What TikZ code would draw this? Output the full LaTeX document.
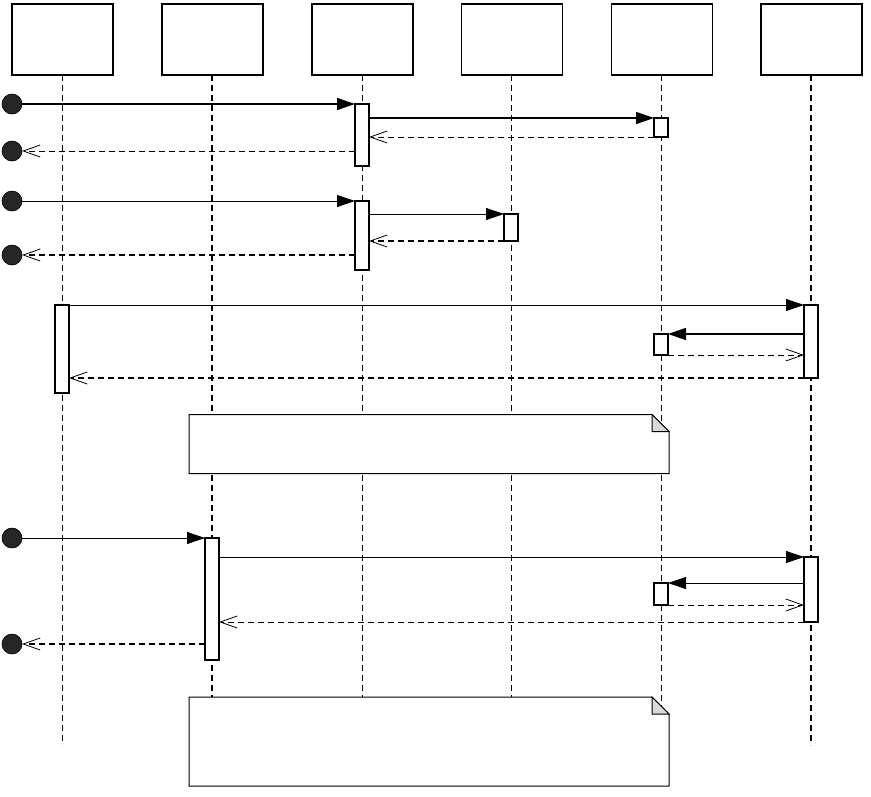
\documentclass[tikz,border=0pt]{standalone}
\usetikzlibrary{arrows.meta,calc}
\begin{document}
\begin{tikzpicture}[x=1pt,y=-1pt,
  header/.style={draw,line width=1.3pt,fill=white,minimum width=101pt,minimum height=71pt,inner sep=0pt,outer sep=0pt,anchor=north},
  life/.style={line width=0.8pt,dash pattern=on 6pt off 4pt},
  lifethick/.style={line width=1.3pt,dash pattern=on 6pt off 4pt},
  bar/.style={draw,line width=1.2pt,fill=white,minimum width=14pt,inner sep=0pt,outer sep=0pt,anchor=north},
  endpt/.style={circle,draw=black,line width=0.6pt,fill=black!85,minimum size=20pt,inner sep=0pt,outer sep=0pt},
  sync/.style={-{Triangle[length=18pt,width=12pt]},line width=0.8pt},
  syncthick/.style={-{Triangle[length=18pt,width=12pt]},line width=1.5pt},
  reply/.style={-{Straight Barb[length=17pt,width=12pt,line width=0.8pt]},line width=0.8pt,dash pattern=on 6pt off 4pt},
  replythick/.style={-{Straight Barb[length=17pt,width=12pt,line width=0.8pt]},line width=1.3pt,dash pattern=on 6pt off 4pt},
  notebox/.style={minimum width=480pt,inner sep=0pt,outer sep=0pt,anchor=north west},
  noteline/.style={draw,line width=1pt,fill=white},
  fold/.style={draw,line width=1pt,fill=black!15}
]
\useasboundingbox (0,0) rectangle (871,796);

% headers
\node[header] (h1) at (62.5,4) {};
\node[header] (h2) at (212.5,4) {};
\node[header] (h3) at (362.5,4) {};
\node[header] (h4) at (512,4) {};
\node[header] (h5) at (662,4) {};
\node[header] (h6) at (811.5,4) {};

% lifeline ends
\coordinate (e1) at (62,745);
\coordinate (e2) at (212,745);
\coordinate (e3) at (362,745);
\coordinate (e4) at (511,745);
\coordinate (e5) at (661,745);
\coordinate (e6) at (811,745);

\draw[life] (h1.south -| e1) -- (e1);
\draw[lifethick] (h2.south -| e2) -- (e2);
\draw[life] (h3.south -| e3) -- (e3);
\draw[life] (h4.south -| e4) -- (e4);
\draw[life] (h5.south -| e5) -- (e5);
\draw[lifethick] (h6.south -| e6) -- (e6);

% activation bars
\node[bar,minimum height=62pt] (b3a) at (362,104) {};
\node[bar,minimum height=19pt] (b5a) at (661,118) {};
\node[bar,minimum height=69pt] (b3b) at (362,201) {};
\node[bar,minimum height=27pt] (b4a) at (511,214) {};
\node[bar,minimum height=88pt] (b1a) at (62,305) {};
\node[bar,minimum height=73pt] (b6a) at (811,305) {};
\node[bar,minimum height=21pt] (b5b) at (661,334) {};
\node[bar,minimum height=122pt] (b2a) at (212,538) {};
\node[bar,minimum height=65pt] (b6b) at (811,557) {};
\node[bar,minimum height=22pt] (b5c) at (661,583) {};

% end points
\node[endpt] (c1) at (12,104) {};
\node[endpt] (c2) at (12,151) {};
\node[endpt] (c3) at (12,201) {};
\node[endpt] (c4) at (12,255) {};
\node[endpt] (c5) at (12,538) {};
\node[endpt] (c6) at (12,644) {};

% group 1
\draw[syncthick] (c1.east) -- (c1 -| b3a.west);
\draw[syncthick] (b5a.north west -| b3a.east) -- (b5a.north west);
\draw[reply] (b5a.south west) -- (b5a.south west -| b3a.east);
\draw[reply] (c2 -| b3a.west) -- (c2.east);

% group 2
\draw[sync] (c3.east) -- (c3 -| b3b.west);
\draw[sync] (b4a.north west -| b3b.east) -- (b4a.north west);
\draw[replythick] (b4a.south west) -- (b4a.south west -| b3b.east);
\draw[replythick] (c4 -| b3b.west) -- (c4.east);

% group 3
\draw[sync] (b1a.north east) -- (b1a.north east -| b6a.west);
\draw[syncthick] (b5b.north east -| b6a.west) -- (b5b.north east);
\draw[reply] (b5b.south east) -- (b5b.south east -| b6a.west);
\draw[replythick] (b6a.south west) -- (b6a.south west -| b1a.east);

% group 4
\draw[sync] (c5.east) -- (c5 -| b2a.west);
\draw[sync] (b6b.north west -| b2a.east) -- (b6b.north west);
\draw[sync] (b5c.north east -| b6b.west) -- (b5c.north east);
\draw[reply] (b5c.south east) -- (b5c.south east -| b6b.west);
\draw[reply] (b6b.south west) -- (b6b.south west -| b2a.east);
\draw[replythick] (c6 -| b2a.west) -- (c6.east);

% notes
\node[notebox,minimum height=59pt] (n1) at (189,414.5) {};
\path[noteline] (n1.north west) -- ([xshift=-17pt]n1.north east) -- ([yshift=-17pt]n1.north east) -- (n1.south east) -- (n1.south west) -- cycle;
\path[fold] ([xshift=-17pt]n1.north east) -- ([xshift=-17pt,yshift=-17pt]n1.north east) -- ([yshift=-17pt]n1.north east) -- cycle;

\node[notebox,minimum height=89pt] (n2) at (189,697) {};
\path[noteline] (n2.north west) -- ([xshift=-17pt]n2.north east) -- ([yshift=-17pt]n2.north east) -- (n2.south east) -- (n2.south west) -- cycle;
\path[fold] ([xshift=-17pt]n2.north east) -- ([xshift=-17pt,yshift=-17pt]n2.north east) -- ([yshift=-17pt]n2.north east) -- cycle;
\end{tikzpicture}
\end{document}
